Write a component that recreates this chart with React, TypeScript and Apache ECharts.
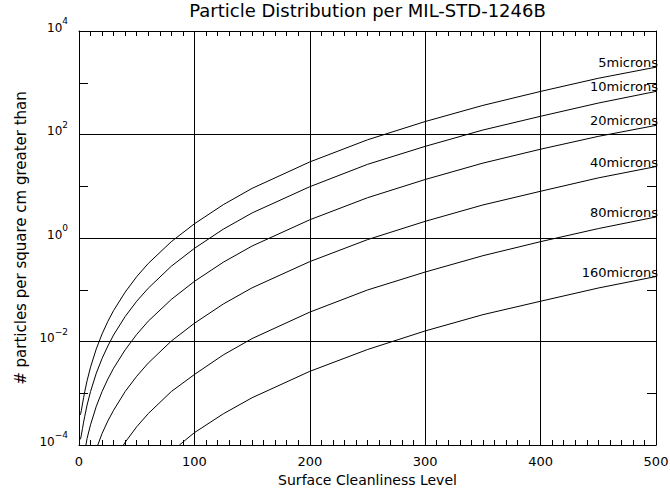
import React, { useEffect, useRef } from 'react';
import * as echarts from 'echarts';

const FONT = 'DejaVu Sans';

const chartTitle = 'Particle Distribution per MIL-STD-1246B';
const xAxisTitle = 'Surface Cleanliness Level';
const yAxisTitle = '# particles per square cm greater than';

const seriesNames = ['5microns', '10microns', '20microns', '40microns', '80microns', '160microns'];

// Surface cleanliness levels (x) and particle counts per cm^2 (y)
const levels5 = [1, 1.5, 2, 3, 4, 5, 7, 10, 15, 20, 25, 30, 40, 50, 60, 80, 100, 125, 150, 200, 250, 300, 350, 400, 450, 500];
const counts5 = [3.8e-4, 4.1e-4, 4.6e-4, 6.2e-4, 8.2e-4, 1.08e-3, 1.74e-3, 3.2e-3, 7.2e-3, 1.4e-2, 2.45e-2, 3.98e-2, 9.0e-2, 0.179, 0.322, 0.85, 1.88, 4.4, 9.1, 29.5, 79, 178, 365, 680, 1220, 2000];

const levels10 = [1, 1.5, 2, 3, 4, 5, 7, 10, 15, 20, 25, 30, 40, 50, 60, 80, 100, 125, 150, 200, 250, 300, 350, 400, 450, 500];
const counts10 = [1.28e-4, 1.36e-4, 1.55e-4, 2.07e-4, 2.77e-4, 3.6e-4, 5.9e-4, 1.08e-3, 2.44e-3, 4.7e-3, 8.2e-3, 1.34e-2, 3.04e-2, 6.0e-2, 0.107, 0.285, 0.63, 1.48, 3.05, 9.8, 26.5, 59, 122, 225, 405, 680];

const levels20 = [6, 7, 10, 15, 20, 25, 30, 40, 50, 60, 80, 100, 125, 150, 200, 250, 300, 350, 400, 450, 500];
const counts20 = [1.0e-4, 1.34e-4, 2.46e-4, 5.6e-4, 1.08e-3, 1.88e-3, 3.05e-3, 6.9e-3, 1.37e-2, 2.47e-2, 6.5e-2, 0.145, 0.34, 0.7, 2.25, 6.0, 13.5, 28, 52, 92, 150];

const levels40 = [16.3, 20, 25, 30, 40, 50, 60, 80, 100, 125, 150, 200, 250, 300, 350, 400, 450, 500];
const counts40 = [1.0e-4, 1.67e-4, 2.92e-4, 4.7e-4, 1.08e-3, 2.13e-3, 3.83e-3, 1.02e-2, 2.25e-2, 5.3e-2, 0.109, 0.35, 0.93, 2.1, 4.35, 8.0, 14.5, 24];

const levels80 = [38.5, 40, 50, 60, 80, 100, 125, 150, 200, 250, 300, 350, 400, 450, 500];
const counts80 = [1.0e-4, 1.13e-4, 2.25e-4, 4.04e-4, 1.08e-3, 2.3e-3, 5.5e-3, 1.14e-2, 3.7e-2, 9.9e-2, 0.22, 0.455, 0.85, 1.52, 2.55];

const levels160 = [87, 100, 125, 150, 200, 250, 300, 350, 400, 450, 500];
const counts160 = [1.0e-4, 1.73e-4, 4.0e-4, 8.2e-4, 2.65e-3, 7.0e-3, 1.6e-2, 3.3e-2, 6.0e-2, 0.108, 0.18];

const allLevels = [levels5, levels10, levels20, levels40, levels80, levels160];
const allCounts = [counts5, counts10, counts20, counts40, counts80, counts160];

const xTickLabels = ['0', '100', '200', '300', '400', '500'];

function yLabel(v: number): string {
  const e = Math.round(Math.log10(v));
  if (e % 2 !== 0) return '';
  const exp = e < 0 ? '\u2212' + String(-e) : String(e);
  return '{b|10}{e|' + exp + '}';
}

export default function App() {
  const ref = useRef<HTMLDivElement>(null);

  useEffect(() => {
    if (!ref.current) return;
    const chart = echarts.init(ref.current, null, { renderer: 'svg' });

    const series = seriesNames.map((name, i) => ({
      name,
      type: 'line',
      xAxisIndex: 0,
      yAxisIndex: 0,
      data: allLevels[i].map((x, j) => [x, allCounts[i][j]]),
      showSymbol: false,
      symbol: 'none',
      smooth: false,
      clip: true,
      lineStyle: { color: '#000', width: 1 },
      endLabel: {
        show: true,
        formatter: name,
        align: 'right',
        verticalAlign: 'bottom',
        distance: 0,
        offset: [2, 2],
        color: '#000',
        fontSize: 13,
        fontFamily: FONT,
      },
      emphasis: { disabled: true },
    }));

    const baseX = {
      type: 'value',
      min: 0,
      max: 500,
      interval: 100,
      axisLine: { show: true, onZero: false, lineStyle: { color: '#000', width: 1 } },
      axisTick: { show: true, inside: true, length: 5, lineStyle: { color: '#000', width: 1 } },
      minorTick: { show: true, splitNumber: 10, length: 5, lineStyle: { color: '#000', width: 1 } },
    };

    const baseY = {
      type: 'log',
      logBase: 10,
      min: 1e-4,
      max: 1e4,
      axisLine: { show: true, onZero: false, lineStyle: { color: '#000', width: 1 } },
      axisTick: { show: true, inside: true, length: 9, lineStyle: { color: '#000', width: 1 } },
    };

    chart.setOption({
      animation: false,
      backgroundColor: '#fff',
      textStyle: { fontFamily: FONT, color: '#000' },
      grid: { left: 79, right: 14, top: 31, bottom: 44, containLabel: false, outerBoundsMode: 'none' },
      xAxis: [
        {
          ...baseX,
          position: 'bottom',
          name: xAxisTitle,
          nameLocation: 'middle',
          nameGap: 27,
          nameTextStyle: { color: '#000', fontSize: 14, fontFamily: FONT },
          axisLabel: {
            color: '#000',
            fontSize: 13,
            fontFamily: FONT,
            margin: 10,
            formatter: (v: number) => xTickLabels[Math.round(v / 100)] ?? '',
          },
          splitLine: { show: true, lineStyle: { color: '#000', width: 1 } },
        },
        {
          ...baseX,
          position: 'top',
          name: chartTitle,
          nameLocation: 'middle',
          nameGap: 12,
          nameTextStyle: { color: '#000', fontSize: 18, fontFamily: FONT },
          axisLabel: { show: false },
          splitLine: { show: false },
        },
      ],
      yAxis: [
        {
          ...baseY,
          position: 'left',
          name: yAxisTitle,
          nameLocation: 'middle',
          nameRotate: 90,
          nameGap: 49,
          nameTextStyle: { color: '#000', fontSize: 15, fontFamily: FONT },
          axisLabel: {
            margin: 11,
            formatter: yLabel,
            padding: [0, 0, 7, 0],
            rich: {
              b: { fontSize: 12, fontFamily: FONT, color: '#000' },
              e: { fontSize: 9, fontFamily: FONT, color: '#000', padding: [0, 0, 13, 0] },
            },
          },
          splitLine: { show: true, lineStyle: { color: ['#000', 'rgba(0,0,0,0)'], width: 1 } },
        },
        {
          ...baseY,
          position: 'right',
          axisLabel: { show: false },
          splitLine: { show: false },
        },
      ],
      series,
    });

    return () => chart.dispose();
  }, []);

  return (
    <div
      ref={ref}
      style={{ position: 'absolute', left: 0, top: 0, width: 670, height: 489, background: '#fff' }}
    />
  );
}
